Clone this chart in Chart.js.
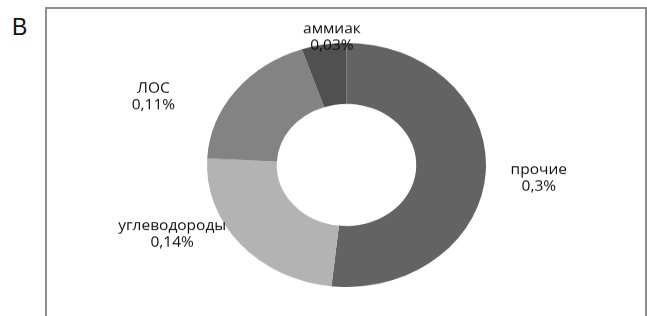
<!DOCTYPE html>
<html>
<head>
<meta charset="utf-8">
<script src="https://cdn.jsdelivr.net/npm/chart.js@4"></script>
<style>
  html, body { margin:0; padding:0; background:#fff; width:647px; height:316px; overflow:hidden; }
  #frame { position:absolute; left:45px; top:7px; width:598px; height:330px; border:2px solid #8e8e8e; border-bottom:none; }
  #letter { position:absolute; left:12px; top:14px; font-family:"Liberation Sans", Arial, sans-serif; font-size:23px; color:#111; }
  #wrap { position:absolute; left:0; top:0; width:647px; height:361px; transform:scaleY(0.875); transform-origin:0 0; }
</style>
</head>
<body>
<div id="frame"></div>
<div id="letter">В</div>
<div id="wrap"><canvas id="c" width="647" height="361"></canvas></div>
<script>
const categories = ["прочие", "углеводороды", "ЛОС", "аммиак"];
const values = [0.3, 0.14, 0.11, 0.03];
const colors = ["#636363", "#b3b3b3", "#838383", "#505050"];
// label offsets from the outer-edge midpoint of each slice (layout styling)
const labelOffsets = [[53, 8], [-68, -11], [-82, 7], [8, -8]];

const labelPlugin = {
  id: 'outLabels',
  afterDatasetsDraw(chart) {
    const ctx = chart.ctx;
    const meta = chart.getDatasetMeta(0);
    ctx.save();
    ctx.font = '15.5px "Open Sans", sans-serif';
    ctx.fillStyle = '#0d0d0d';
    ctx.textAlign = 'center';
    ctx.textBaseline = 'middle';
    meta.data.forEach((arc, i) => {
      const p = arc.getProps(['x', 'y', 'startAngle', 'endAngle', 'outerRadius'], true);
      const mid = (p.startAngle + p.endAngle) / 2;
      const bx = p.x + p.outerRadius * Math.cos(mid) + labelOffsets[i][0];
      const by = p.y + p.outerRadius * Math.sin(mid) + labelOffsets[i][1];
      const valText = String(values[i]).replace('.', ',') + '%';
      ctx.fillText(categories[i], bx, by - 9.5);
      ctx.fillText(valText, bx, by + 9.5);
    });
    ctx.restore();
  }
};

new Chart(document.getElementById('c'), {
  type: 'doughnut',
  data: {
    labels: categories,
    datasets: [{
      data: values,
      backgroundColor: colors,
      borderWidth: 0,
      hoverOffset: 0
    }]
  },
  options: {
    responsive: false,
    devicePixelRatio: 1,
    animation: false,
    cutout: '50%',
    layout: { padding: { left: 207, right: 161, top: 49, bottom: 33 } },
    plugins: { legend: { display: false }, tooltip: { enabled: false } }
  },
  plugins: [labelPlugin]
});
</script>
</body>
</html>
